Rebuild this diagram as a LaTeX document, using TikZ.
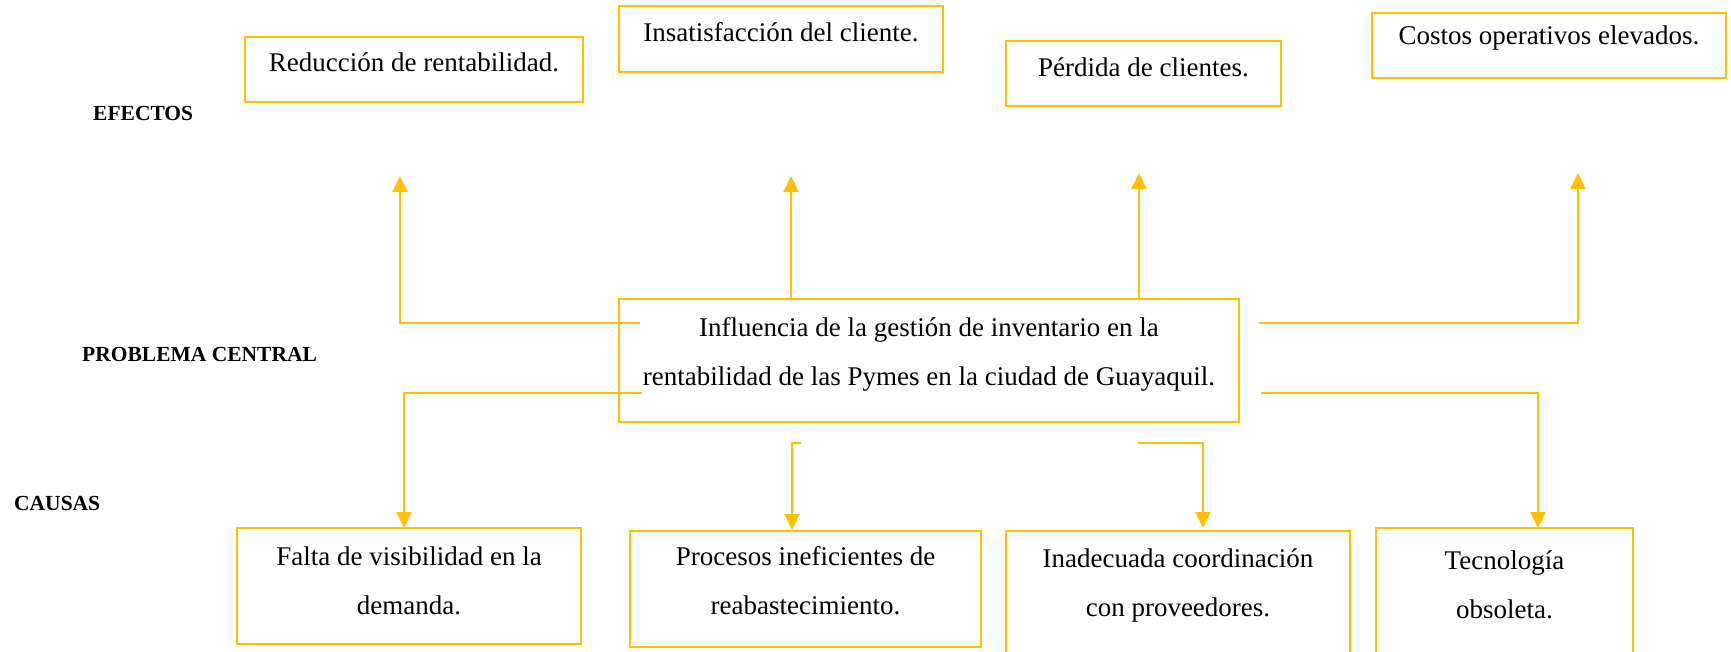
\documentclass[tikz,border=0pt]{standalone}
\usepackage{fontspec}
\setmainfont{Liberation Serif}
\usetikzlibrary{arrows.meta}
\definecolor{gold}{HTML}{FFC000}
\begin{document}
\begin{tikzpicture}[x=1pt,y=-1pt,
  box/.style={draw=gold, line width=2.4pt, inner sep=0pt},
  txt/.style={font=\fontsize{27}{49}\selectfont, align=center, inner sep=0pt},
  lbl/.style={font=\fontsize{21.5}{24}\selectfont\bfseries, anchor=west, inner sep=0pt},
  arr/.style={draw=gold, line width=2.2pt, -{Triangle[length=16pt,width=15pt]}},
]
\clip (0,0) rectangle (1731,651);
\fill[white] (0,0) rectangle (1731,651);

% side labels
\node[lbl] (lef) at (93,113) {EFECTOS};
\node[lbl] (lpc) at (82,354) {PROBLEMA CENTRAL};
\node[lbl] (lca) at (14,503) {CAUSAS};

% effect boxes
\node[box, minimum width=338pt, minimum height=65pt] (e1) at (414,69.5) {};
\node[txt] (e1t) at (414,62) {Reducción de rentabilidad.};
\node[box, minimum width=324pt, minimum height=66pt] (e2) at (781,39) {};
\node[txt] (e2t) at (781,32) {Insatisfacción del cliente.};
\node[box, minimum width=275pt, minimum height=65pt] (e3) at (1143.5,73.5) {};
\node[txt] (e3t) at (1143.5,67) {Pérdida de clientes.};
\node[box, minimum width=354pt, minimum height=65pt] (e4) at (1549,45.5) {};
\node[txt] (e4t) at (1549,38) {Costos operativos elevados.};

% central problem
\node[box, minimum width=620pt, minimum height=123pt] (cen) at (929,360.5) {};
\node[txt] (cent) at (929,354.5) {Influencia de la gestión de inventario en la\\rentabilidad de las Pymes en la ciudad de Guayaquil.};

% cause boxes
\node[box, minimum width=344pt, minimum height=116pt] (c1) at (409,586) {};
\node[txt] (c1t) at (409,581) {Falta de visibilidad en la\\demanda.};
\node[box, minimum width=351pt, minimum height=116pt] (c2) at (805.5,589) {};
\node[txt] (c2t) at (805.5,581) {Procesos ineficientes de\\reabastecimiento.};
\node[box, minimum width=344pt, minimum height=149pt] (c3) at (1178,605.5) {};
\node[txt] (c3t) at (1178,585) {Inadecuada coordinación\\con proveedores.};
\node[box, minimum width=257pt, minimum height=152pt] (c4) at (1504.5,604) {};
\node[txt] (c4t) at (1504.5,585) {Tecnología\\obsoleta.};

% connector ends
\coordinate (a1s) at (640,323);  \coordinate (a1e) at (400,176);
\coordinate (a2s) at (820,299);  \coordinate (a2e) at (791,176);
\coordinate (a3s) at (1166,299); \coordinate (a3e) at (1139,173);
\coordinate (a4s) at (1259,323); \coordinate (a4e) at (1578,173);
\coordinate (b1s) at (642,393);  \coordinate (b1e) at (404,528);
\coordinate (b2s) at (801,443);  \coordinate (b2e) at (792,530);
\coordinate (b3s) at (1138,443); \coordinate (b3e) at (1203,528);
\coordinate (b4s) at (1261,393); \coordinate (b4e) at (1538,528);

\draw[arr] (a1s) -| (a1e);
\draw[arr] (a2s) -| (a2e);
\draw[arr] (a3s) -| (a3e);
\draw[arr] (a4s) -| (a4e);
\draw[arr] (b1s) -| (b1e);
\draw[arr] (b2s) -| (b2e);
\draw[arr] (b3s) -| (b3e);
\draw[arr] (b4s) -| (b4e);
\end{tikzpicture}
\end{document}
